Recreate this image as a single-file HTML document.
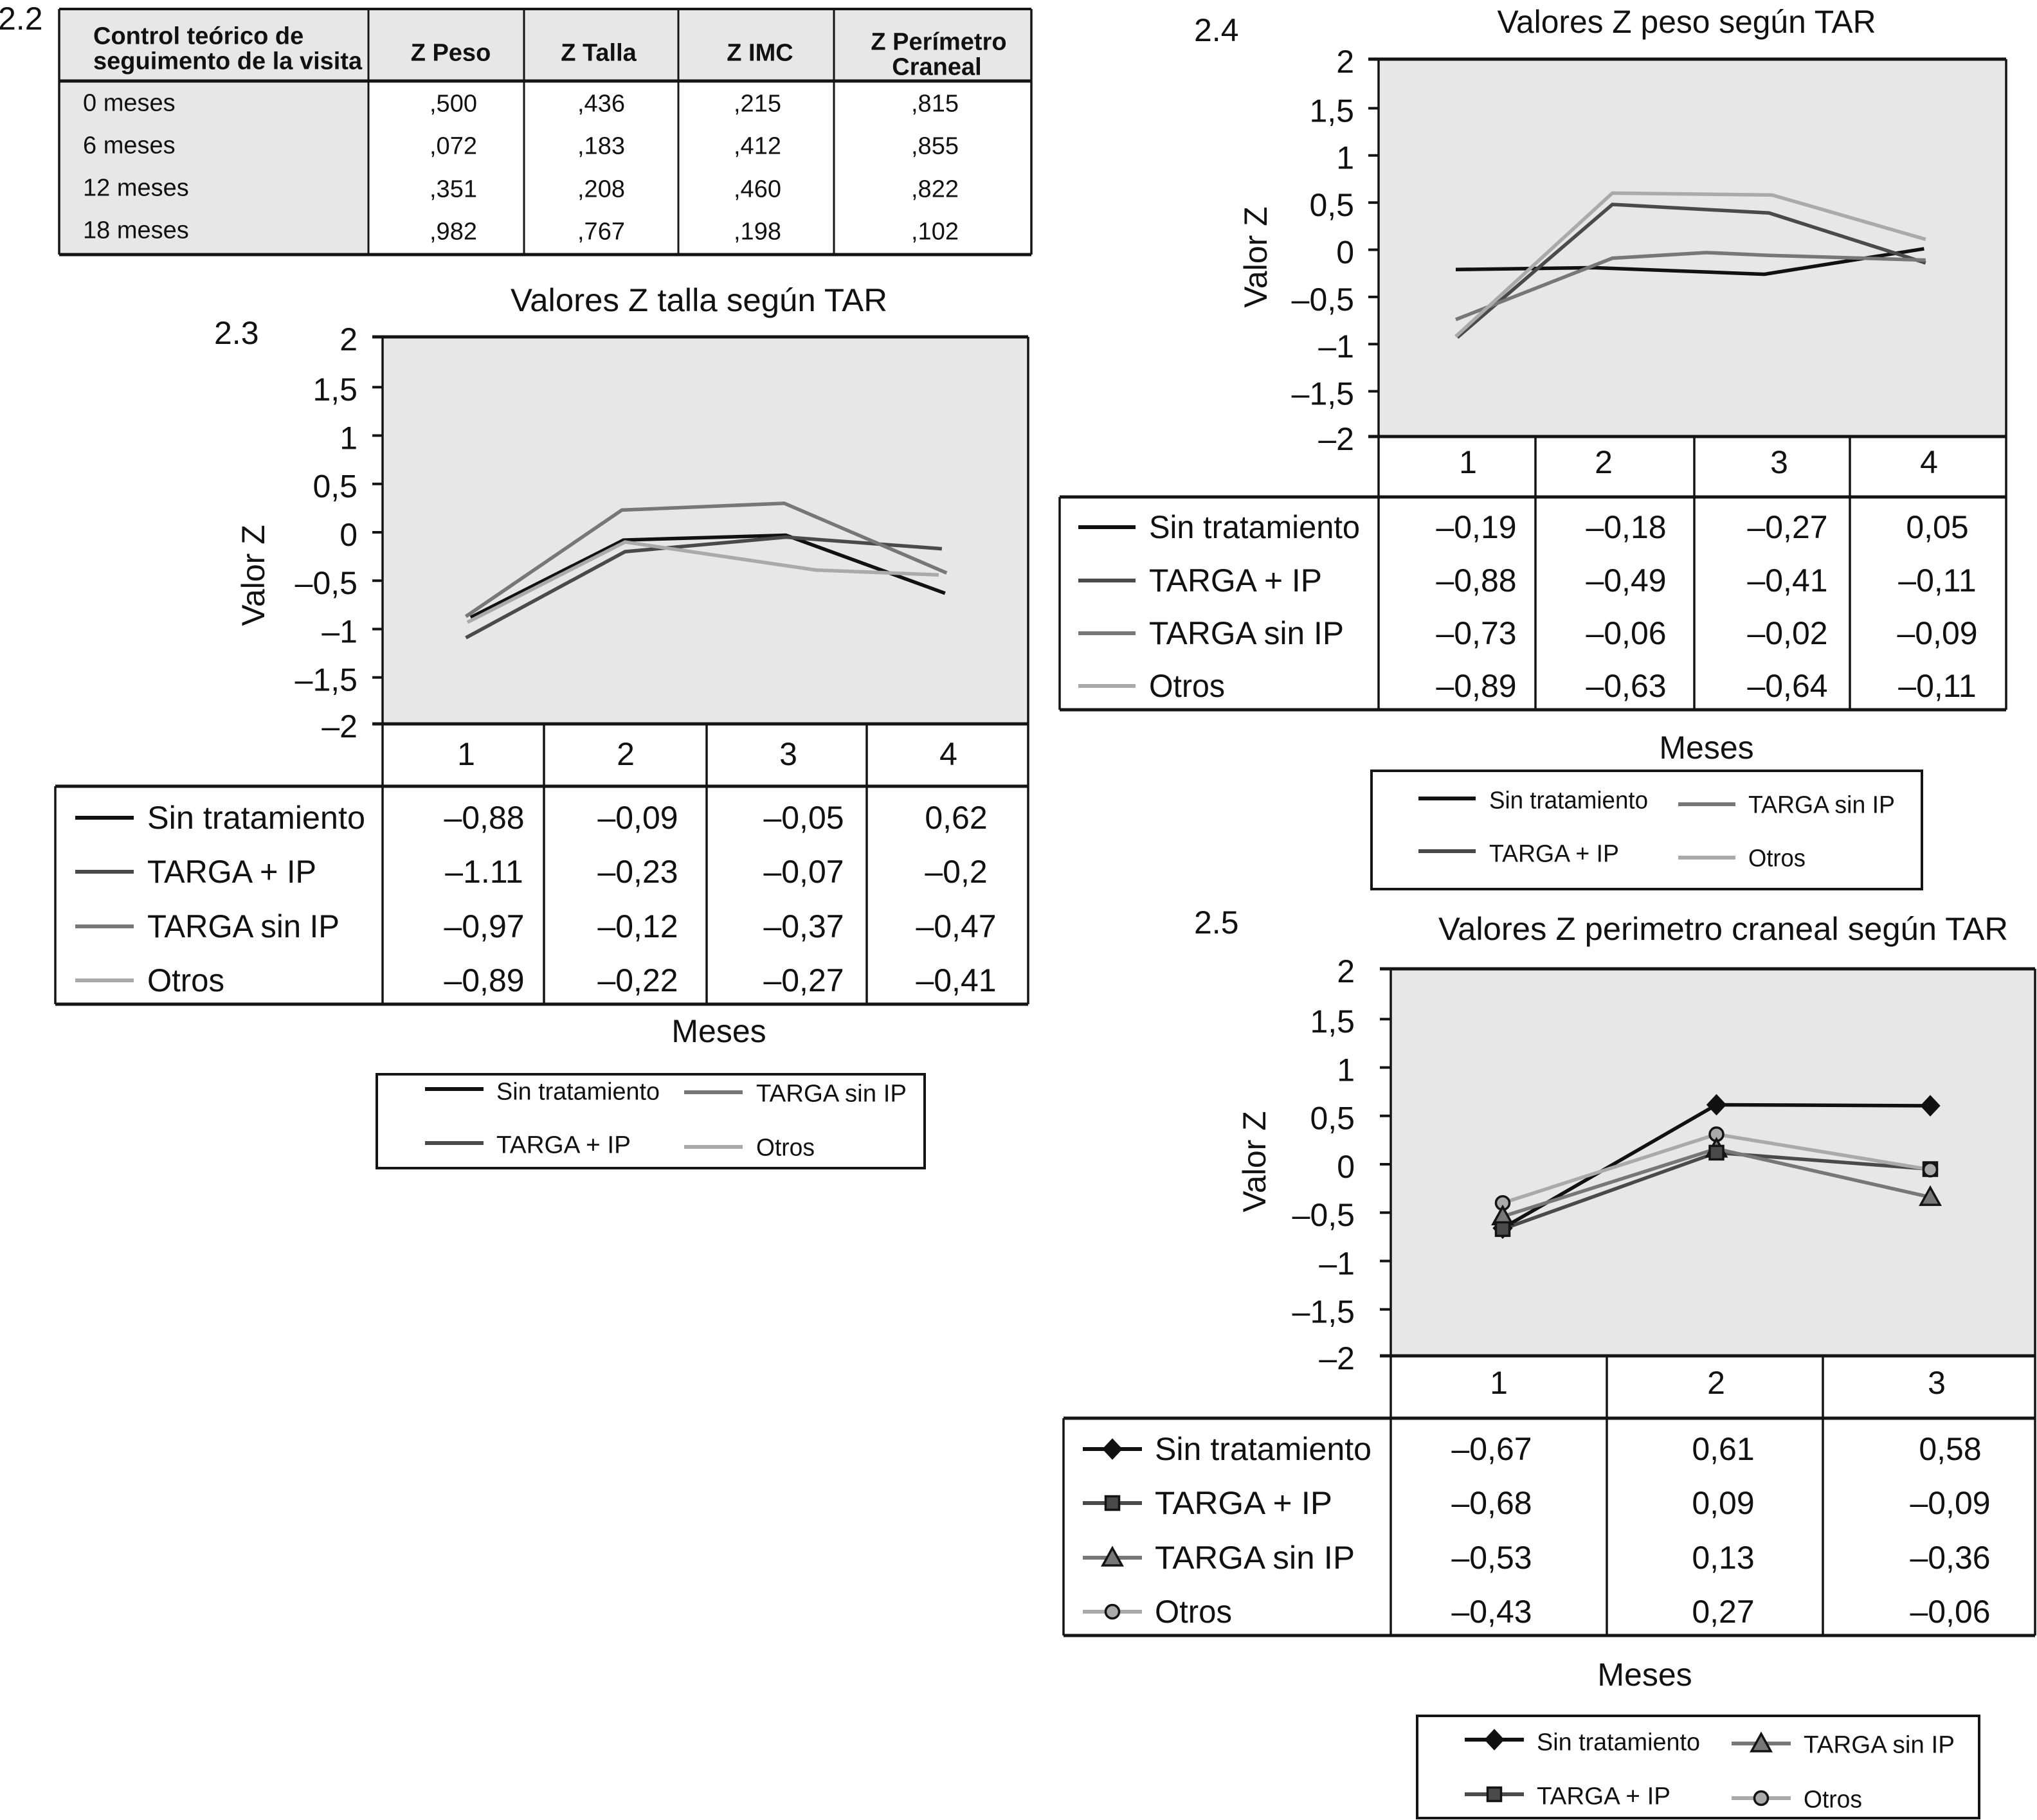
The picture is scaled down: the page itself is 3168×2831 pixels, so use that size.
<!DOCTYPE html>
<html lang="es">
<head>
<meta charset="utf-8">
<title>Valores Z según TAR</title>
<style>
html,body{margin:0;padding:0;background:#fff;width:3168px;height:2831px;overflow:hidden}
svg{display:block}
text{font-family:"Liberation Sans",Arial,sans-serif;fill:#111}
</style>
</head>
<body>
<svg id="figure" xmlns="http://www.w3.org/2000/svg" width="3168" height="2831" viewBox="0 0 3168 2831"></svg>
<script>
// ---------- Table 2.2 data ----------
const pHeaders = ['Z Peso', 'Z Talla', 'Z IMC'];
const pRows = ['0 meses', '6 meses', '12 meses', '18 meses'];
const pPeso = [',500', ',072', ',351', ',982'];
const pTalla = [',436', ',183', ',208', ',767'];
const pImc = [',215', ',412', ',460', ',198'];
const pPerimetro = [',815', ',855', ',822', ',102'];

// ---------- Shared ----------
const seriesNames = ['Sin tratamiento', 'TARGA + IP', 'TARGA sin IP', 'Otros'];
const yTicks = [2, 1.5, 1, 0.5, 0, -0.5, -1, -1.5, -2];
const yTickLabels = ['2', '1,5', '1', '0,5', '0', '–0,5', '–1', '–1,5', '–2'];

// ---------- Chart 2.3 (talla) ----------
const tallaMonths = [1, 2, 3, 4];
const tallaSinMonths = [1.02, 1.98, 3, 4];
const tallaIpMonths = [0.99, 1.99, 3, 3.98];
const tallaNoIpMonths = [0.99, 1.97, 2.99, 4.01];
const tallaOtrosMonths = [1, 1.99, 3.19, 3.96];
const tallaSin = [-0.90, -0.10, -0.05, -0.65];
const tallaIp = [-1.11, -0.22, -0.07, -0.19];
const tallaNoIp = [-0.89, 0.21, 0.28, -0.44];
const tallaOtros = [-0.95, -0.12, -0.41, -0.46];
const tallaPrinted = [
  ['–0,88', '–0,09', '–0,05', '0,62'],
  ['–1.11', '–0,23', '–0,07', '–0,2'],
  ['–0,97', '–0,12', '–0,37', '–0,47'],
  ['–0,89', '–0,22', '–0,27', '–0,41']
];

// ---------- Chart 2.4 (peso) ----------
const pesoMonths = [1, 2, 3, 4];
const pesoSinMonths = [1, 1.88, 2.97, 3.99];
const pesoIpMonths = [1.01, 2, 3, 4];
const pesoNoIpMonths = [1, 2, 2.6, 3, 3.6, 4];
const pesoOtrosMonths = [1, 2, 3.02, 4];
const pesoSin = [-0.23, -0.21, -0.28, -0.01];
const pesoIp = [-0.95, 0.46, 0.37, -0.16];
const pesoNoIp = [-0.76, -0.11, -0.05, -0.08, -0.11, -0.13];
const pesoOtros = [-0.94, 0.58, 0.56, 0.09];
const pesoPrinted = [
  ['–0,19', '–0,18', '–0,27', '0,05'],
  ['–0,88', '–0,49', '–0,41', '–0,11'],
  ['–0,73', '–0,06', '–0,02', '–0,09'],
  ['–0,89', '–0,63', '–0,64', '–0,11']
];

// ---------- Chart 2.5 (perimetro) ----------
const periMonths = [1, 2, 3];
const periSin = [-0.68, 0.595, 0.585];
const periIp = [-0.69, 0.10, -0.07];
const periNoIp = [-0.56, 0.14, -0.36];
const periOtros = [-0.42, 0.29, -0.075];
const periPrinted = [
  ['–0,67', '0,61', '0,58'],
  ['–0,68', '0,09', '–0,09'],
  ['–0,53', '0,13', '–0,36'],
  ['–0,43', '0,27', '–0,06']
];

const NS = 'http://www.w3.org/2000/svg';
const root = document.getElementById('figure');
const colors = ['#111111', '#4a4a4a', '#777777', '#aaaaaa'];
const INK = '#141414';
const PANEL = '#e7e7e7';

function group(parent, name) {
  const el = document.createElementNS(NS, 'g');
  
  
  parent.appendChild(el);
  return el;
}
function txt(parent, x, cy, str, size, anchor, name, weight, fitWidth) {
  const el = document.createElementNS(NS, 'text');
  
  
  el.setAttribute('x', x);
  el.setAttribute('y', cy + size * 0.358);
  el.setAttribute('font-size', size);
  el.setAttribute('text-anchor', anchor);
  if (weight) el.setAttribute('font-weight', weight);
  if (fitWidth) {
    el.setAttribute('textLength', fitWidth);
    el.setAttribute('lengthAdjust', 'spacingAndGlyphs');
  }
  el.textContent = str;
  parent.appendChild(el);
  return el;
}
function line(parent, x1, y1, x2, y2, color, w, name) {
  const el = document.createElementNS(NS, 'line');
  
  
  el.setAttribute('x1', x1);
  el.setAttribute('y1', y1);
  el.setAttribute('x2', x2);
  el.setAttribute('y2', y2);
  el.setAttribute('stroke', color);
  el.setAttribute('stroke-width', w);
  parent.appendChild(el);
  return el;
}
function rect(parent, x, y, w, h, fill, name) {
  const el = document.createElementNS(NS, 'rect');
  
  
  el.setAttribute('x', x);
  el.setAttribute('y', y);
  el.setAttribute('width', w);
  el.setAttribute('height', h);
  el.setAttribute('fill', fill);
  parent.appendChild(el);
  return el;
}
function box(parent, x1, y1, x2, y2, name) {
  const el = document.createElementNS(NS, 'rect');
  
  
  el.setAttribute('x', x1);
  el.setAttribute('y', y1);
  el.setAttribute('width', x2 - x1);
  el.setAttribute('height', y2 - y1);
  el.setAttribute('fill', 'none');
  el.setAttribute('stroke', INK);
  el.setAttribute('stroke-width', 4);
  parent.appendChild(el);
  return el;
}
function marker(parent, idx, x, y) {
  let el;
  if (idx === 3) {
    el = document.createElementNS(NS, 'circle');
    el.setAttribute('cx', x);
    el.setAttribute('cy', y);
    el.setAttribute('r', 10.5);
  } else if (idx === 1) {
    el = document.createElementNS(NS, 'rect');
    el.setAttribute('x', x - 10.5);
    el.setAttribute('y', y - 10.5);
    el.setAttribute('width', 21);
    el.setAttribute('height', 21);
  } else if (idx === 2) {
    el = document.createElementNS(NS, 'polygon');
    el.setAttribute('points', (x - 15) + ',' + (y + 12) + ' ' + x + ',' + (y - 15) + ' ' + (x + 15) + ',' + (y + 12));
  } else {
    el = document.createElementNS(NS, 'polygon');
    el.setAttribute('points', (x - 15) + ',' + y + ' ' + x + ',' + (y - 16) + ' ' + (x + 15) + ',' + y + ' ' + x + ',' + (y + 16));
  }
  
  
  el.setAttribute('fill', colors[idx]);
  el.setAttribute('stroke', INK);
  el.setAttribute('stroke-width', idx === 0 ? 1 : 3.5);
  parent.appendChild(el);
}
function seriesSwatch(parent, idx, x1, x2, y, withMarker) {
  line(parent, x1, y, x2, y, colors[idx], 6, 'legend-line');
  if (withMarker) marker(parent, idx, (x1 + x2) / 2, y);
}

function drawChart(c) {
  const g = group(root, c.name);
  txt(g, c.figX, c.figY, c.fig, 50, 'start', 'figure-number');
  txt(g, c.titleX, c.titleY, c.title, 50, 'middle', 'chart-title', null, c.titleWidth);

  const yOf = v => (c.top + c.bottom) / 2 - v * (c.bottom - c.top) / 4;
  const xOf = m => c.x1 + (m - 1) * c.xStep;
  const tickY = v => yOf(v) + (Math.abs(v) === 2 ? 0 : 3);

  rect(g, c.left, c.top, c.right - c.left, c.bottom - c.top, PANEL, 'plot-area');

  // y axis
  const ya = group(g, 'y-axis');
  yTicks.forEach((v, i) => {
    line(ya, c.tickX, tickY(v), c.left, tickY(v), INK, 4, 'y-tick');
    txt(ya, c.labelX, tickY(v) + 3, yTickLabels[i], 50, 'end', 'y-tick-label');
  });
  const yt = txt(ya, 0, 0, 'Valor Z', 50, 'middle', 'y-axis-title');
  yt.setAttribute('y', 0);
  yt.setAttribute('dominant-baseline', 'central');
  yt.setAttribute('transform', 'translate(' + c.yTitleX + ' ' + c.yTitleY + ') rotate(-90)');

  // series lines
  const marks = group(g, 'series');
  c.series.forEach((vals, i) => {
    const months = (c.seriesMonths && c.seriesMonths[i]) || c.months;
    const el = document.createElementNS(NS, 'polyline');
    
    
    el.setAttribute('points', vals.map((v, k) => xOf(months[k]) + ',' + yOf(v)).join(' '));
    el.setAttribute('fill', 'none');
    el.setAttribute('stroke', colors[i]);
    el.setAttribute('stroke-width', c.lineWidth);
    el.setAttribute('stroke-linejoin', 'miter');
    marks.appendChild(el);
  });
  if (c.markers) {
    c.months.forEach((m, k) => {
      const order = k < 2 ? [0, 3, 2, 1] : [0, 2, 1, 3];
      order.forEach(i => {
        marker(marks, i, xOf(m), yOf(c.series[i][k]));
      });
    });
  }

  // data table
  const t = group(g, 'data-table');
  c.colEdges.forEach(x => {
    line(t, x, c.bottom, x, c.tableBottom, INK, 3.5, 'table-column-line');
  });
  line(t, c.left, c.top, c.left, c.bottom, INK, 3.5, 'plot-left-border');
  line(t, c.right, c.top, c.right, c.tableBottom, INK, 3.5, 'plot-right-border');
  line(t, c.tickX, c.top, c.right, c.top, INK, 5, 'plot-top-border');
  line(t, c.tickX, c.bottom, c.right, c.bottom, INK, 5, 'plot-bottom-border');
  line(t, c.tableLeft, c.tableTop, c.right, c.tableTop, INK, 5, 'table-top-border');
  line(t, c.tableLeft, c.tableBottom, c.right, c.tableBottom, INK, 5, 'table-bottom-border');
  line(t, c.tableLeft, c.tableTop, c.tableLeft, c.tableBottom, INK, 3.5, 'table-left-border');
  c.catX.forEach((x, i) => {
    txt(t, x, c.catY, String(c.months[i]), 50, 'middle', 'x-category-label');
  });
  seriesNames.forEach((n, r) => {
    seriesSwatch(t, r, c.swatch[0], c.swatch[1], c.rowY[r], c.markers);
    txt(t, c.nameX, c.rowY[r] - 1, n, 50, 'start', 'table-series-name', null, c.nameWidths[r]);
    c.printed[r].forEach((s, k) => {
      txt(t, c.valX[k], c.rowY[r] - 1, s, 50, 'middle', 'table-value');
    });
  });
  txt(g, c.mesesX, c.mesesY, 'Meses', 50, 'middle', 'x-axis-title');

  // legend
  const l = group(g, 'legend');
  box(l, c.leg[0], c.leg[1], c.leg[2], c.leg[3], 'legend-box');
  c.legEntries.forEach((e, i) => {
    const en = group(l, 'legend-entry');
    seriesSwatch(en, i, e[0], e[0] + c.swatch[1] - c.swatch[0], e[1], c.markers);
    txt(en, e[2], e[3], seriesNames[i], 38, 'start', 'legend-label', null, c.legWidths[i]);
  });
}

// ---------- Table 2.2 ----------
(function () {
  const g = group(root, 'table-2-2');
  txt(g, -3, 28, '2.2', 50, 'start', 'figure-number');
  const L = 92, R = 1604, T = 14, H = 126, B = 396;
  const cols = [573, 815, 1055, 1297];
  rect(g, L, T, R - L, H - T, PANEL, 'table-header-background');
  rect(g, L, H, cols[0] - L, B - H, PANEL, 'table-row-header-background');
  line(g, L, T, R, T, INK, 4, 'table-top-border');
  line(g, L, H, R, H, INK, 5, 'table-header-rule');
  line(g, L, B, R, B, INK, 5, 'table-bottom-border');
  line(g, L, T, L, B, INK, 3.5, 'table-left-border');
  line(g, R, T, R, B, INK, 3.5, 'table-right-border');
  cols.forEach(x => {
    line(g, x, T, x, B, INK, 3, 'table-column-line');
  });
  txt(g, 145, 55, 'Control teórico de', 38, 'start', 'table-header', 'bold');
  txt(g, 145, 94, 'seguimento de la visita', 38, 'start', 'table-header', 'bold');
  const hx = [701, 931, 1182];
  pHeaders.forEach((h, i) => {
    txt(g, hx[i], 81, h, 38, 'middle', 'table-header', 'bold');
  });
  txt(g, 1460, 64, 'Z Perímetro', 38, 'middle', 'table-header', 'bold');
  txt(g, 1457, 103, 'Craneal', 38, 'middle', 'table-header', 'bold');
  const ry = [160, 226, 293, 359];
  const ly = [159, 225, 291, 357];
  const vx = [668, 898, 1141, 1417];
  const colsData = [pPeso, pTalla, pImc, pPerimetro];
  pRows.forEach((r, i) => {
    txt(g, 129, ly[i], r, 38, 'start', 'table-row-label');
    colsData.forEach((col, k) => {
      txt(g, vx[k], ry[i], col[i], 38, 'start', 'table-value');
    });
  });
})();

drawChart({
  name: 'chart-2-3-talla', fig: '2.3', figX: 333, figY: 517,
  title: 'Valores Z talla según TAR', titleX: 1087, titleY: 466, titleWidth: 586,
  left: 595, right: 1599, top: 524, bottom: 1126, tickX: 579, labelX: 556,
  x1: 727, xStep: 247.6, months: tallaMonths,
  seriesMonths: [tallaSinMonths, tallaIpMonths, tallaNoIpMonths, tallaOtrosMonths],
  series: [tallaSin, tallaIp, tallaNoIp, tallaOtros], lineWidth: 5.5,
  yTitleX: 394, yTitleY: 895,
  colEdges: [595, 846, 1099, 1348], catX: [725, 973, 1226, 1475], catY: 1172,
  tableLeft: 86, tableTop: 1223, tableBottom: 1562,
  rowY: [1272, 1356, 1441, 1525], swatch: [117, 208], nameX: 229,
  nameWidths: [339, 263, 299, 120],
  valX: [753, 992, 1250, 1487], printed: tallaPrinted,
  mesesX: 1118, mesesY: 1603,
  leg: [586, 1671, 1438, 1817],
  legEntries: [[661, 1694, 772, 1697], [661, 1778, 772, 1780], [1064, 1699, 1176, 1700], [1064, 1784, 1176, 1784]],
  legWidths: [254, 209, 234, 91]
});

drawChart({
  name: 'chart-2-4-peso', fig: '2.4', figX: 1857, figY: 46,
  title: 'Valores Z peso según TAR', titleX: 2623, titleY: 33, titleWidth: 589,
  left: 2144, right: 3120, top: 92, bottom: 679, tickX: 2128, labelX: 2106,
  x1: 2264, xStep: 243.6, months: pesoMonths,
  seriesMonths: [pesoSinMonths, pesoIpMonths, pesoNoIpMonths, pesoOtrosMonths],
  series: [pesoSin, pesoIp, pesoNoIp, pesoOtros], lineWidth: 5.5,
  yTitleX: 1953, yTitleY: 400,
  colEdges: [2144, 2388, 2635, 2877], catX: [2283, 2494, 2767, 3000], catY: 718,
  tableLeft: 1648, tableTop: 773, tableBottom: 1104,
  rowY: [820, 903, 985, 1067], swatch: [1677, 1766], nameX: 1787,
  nameWidths: [328, 269, 303, 118],
  valX: [2296, 2529, 2780, 3013], printed: pesoPrinted,
  mesesX: 2654, mesesY: 1162,
  leg: [2133, 1199, 2989, 1383],
  legEntries: [[2206, 1242, 2316, 1244], [2206, 1324, 2316, 1327], [2610, 1251, 2719, 1251], [2610, 1334, 2719, 1334]],
  legWidths: [247, 202, 228, 89]
});

drawChart({
  name: 'chart-2-5-perimetro', fig: '2.5', figX: 1857, figY: 1434,
  title: 'Valores Z perimetro craneal según TAR', titleX: 2680, titleY: 1444, titleWidth: 886,
  left: 2163, right: 3165, top: 1507, bottom: 2109, tickX: 2146, labelX: 2107,
  x1: 2337, xStep: 332.5, months: periMonths, markers: true,
  series: [periSin, periIp, periNoIp, periOtros], lineWidth: 5.5,
  yTitleX: 1951, yTitleY: 1807,
  colEdges: [2163, 2499, 2835], catX: [2331, 2669, 3012], catY: 2150,
  tableLeft: 1654, tableTop: 2206, tableBottom: 2544,
  rowY: [2254, 2338, 2423, 2507], swatch: [1684, 1776], nameX: 1796,
  nameWidths: [337, 276, 311, 120],
  valX: [2320, 2680, 3033], printed: periPrinted,
  mesesX: 2558, mesesY: 2604,
  leg: [2204, 2669, 3078, 2828],
  legEntries: [[2278, 2706, 2390, 2709], [2278, 2791, 2390, 2793], [2693, 2712, 2805, 2713], [2693, 2797, 2805, 2798]],
  legWidths: [254, 208, 235, 91]
});
</script>
</body>
</html>
